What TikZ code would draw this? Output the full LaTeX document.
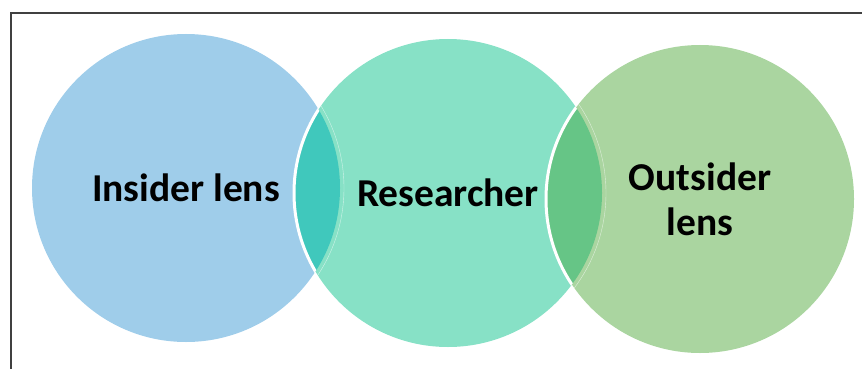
\documentclass[tikz,border=0pt]{standalone}
\usepackage{fontspec}
\setmainfont{Carlito}

\definecolor{insiderblue}{HTML}{9FCDEA}
\definecolor{researchteal}{HTML}{87E1C6}
\definecolor{outsidergreen}{HTML}{AAD5A0}
\definecolor{lensteal}{HTML}{40C8BC}
\definecolor{lensgreen}{HTML}{66C586}
\definecolor{framegray}{HTML}{404040}

\begin{document}
\begin{tikzpicture}[x=1pt,y=-1pt]
    \pgfmathsetmacro{\circleradius}{154}
    \tikzset{
        lenscircle/.style={circle,inner sep=0,minimum size=2*\circleradius pt,align=center,
            font=\fontsize{39.5pt}{45pt}\selectfont\bfseries}
    }
    \useasboundingbox (0,0) rectangle (862,369);
    % frame
    \draw[framegray,line width=1.3pt] (11,369) -- (11,13) -- (862,13);
    % the three circles
    \node[lenscircle,fill=insiderblue] (insider) at (186,188) {};
    \node[lenscircle,fill=researchteal] (researcher) at (448,193) {};
    \node[lenscircle,fill=outsidergreen] (outsider) at (700,199) {};
    % overlaps
    \begin{scope}
        \clip (insider.center) circle (\circleradius pt);
        \fill[lensteal] (researcher.center) circle (\circleradius pt);
        \draw[white,line width=3pt] (researcher.center) circle (\circleradius pt);
    \end{scope}
    \begin{scope}
        \clip (researcher.center) circle (\circleradius pt);
        \fill[lensgreen] (outsider.center) circle (\circleradius pt);
        \draw[white,line width=3pt] (outsider.center) circle (\circleradius pt);
    \end{scope}
    \begin{scope}
        \clip (researcher.center) circle (\circleradius pt);
        \draw[white,opacity=.6,line width=.4pt] (insider.center) circle (\circleradius pt + 4pt);
    \end{scope}
    \begin{scope}
        \clip (outsider.center) circle (\circleradius pt);
        \draw[white,opacity=.6,line width=.4pt] (researcher.center) circle (\circleradius pt + 4pt);
    \end{scope}
    % labels
    \node[lenscircle] (insidertext) at (insider.center) {Insider lens};
    \node[lenscircle] (researchertext) at (researcher.center) {Researcher};
    \node[lenscircle] (outsidertext) at (outsider.center) {Outsider\\lens};
\end{tikzpicture}
\end{document}
